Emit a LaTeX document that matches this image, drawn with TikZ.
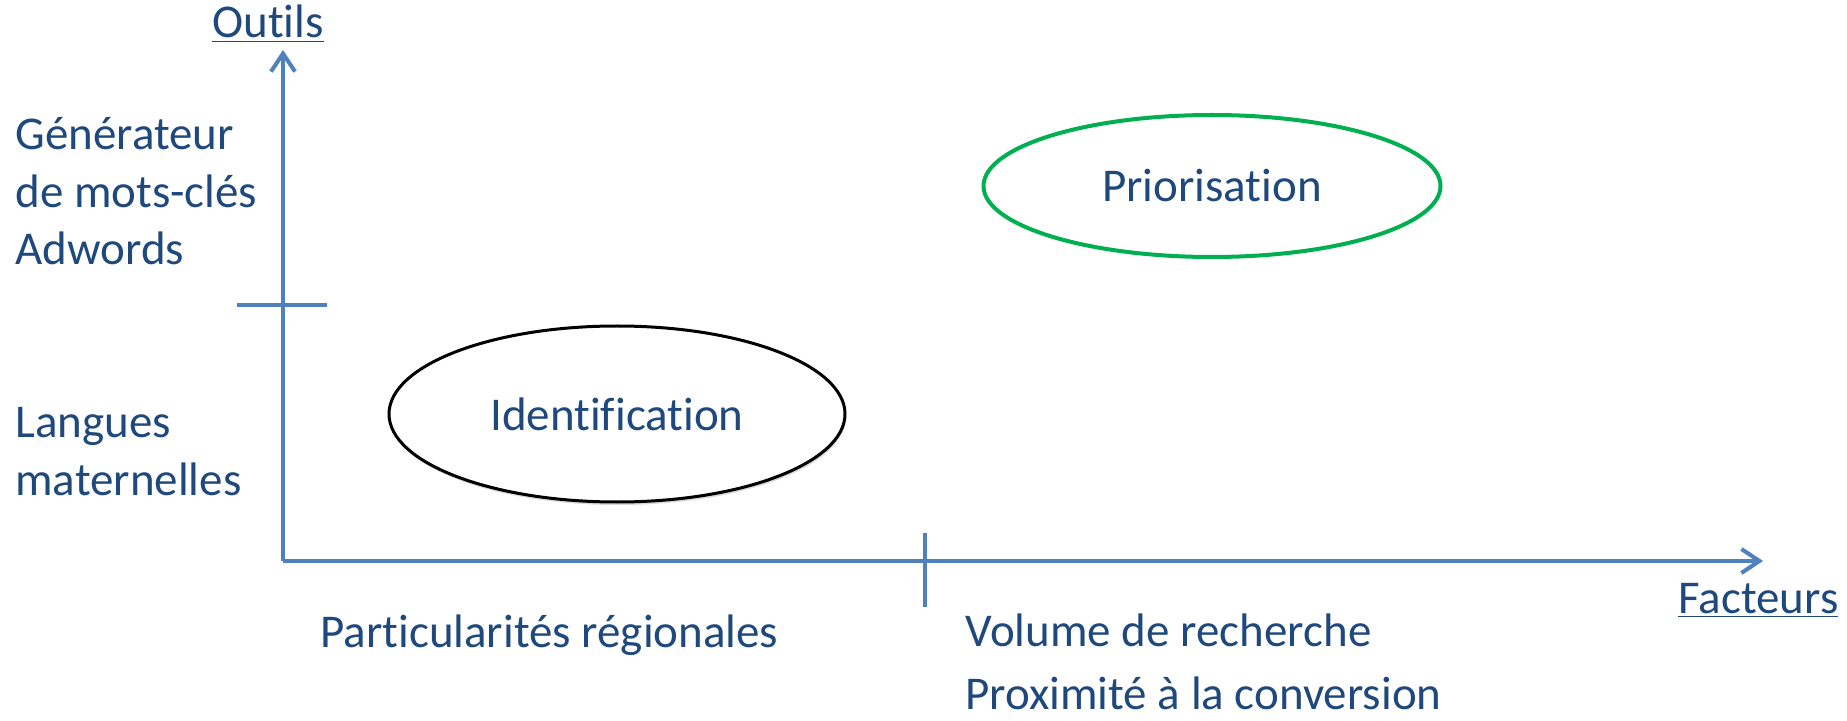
\documentclass[tikz,border=0pt]{standalone}
\usepackage{fontspec}
\setmainfont[Ligatures=NoCommon]{Carlito}
\usepackage{xcolor}
\usetikzlibrary{arrows.meta,shapes.geometric,shadows}
\definecolor{axisblue}{RGB}{79,129,189}
\definecolor{textblue}{RGB}{31,73,125}
\definecolor{prioGreen}{RGB}{0,176,80}

\begin{document}
\begin{tikzpicture}[x=0.5pt,y=-0.5pt,
    lbl/.style={text=textblue,inner sep=0pt,align=left,
      font=\fontsize{23.5}{28.75}\selectfont},
    axe/.style={draw=axisblue,line width=2pt},
    phase/.style={ellipse,fill=white,inner sep=0pt,text=textblue,
      font=\fontsize{23.5}{28.75}\selectfont}]

    \useasboundingbox (0,0) rectangle (1847,721);

    \coordinate (O) at (283,561);
    \coordinate (Ytop) at (283,50);
    \coordinate (Xend) at (1763,561);
    \coordinate (ya) at (237,305);
    \coordinate (yb) at (327,305);
    \coordinate (xa) at (925,533);
    \coordinate (xb) at (925,607);

    \draw[axe,-{Straight Barb[length=9pt,width=12pt]}] (O)--(Ytop);
    \draw[axe,-{Straight Barb[length=9pt,width=12pt]}] (O)--(Xend);
    \draw[axe] (ya)--(yb);
    \draw[axe] (xa)--(xb);

    \node[lbl,anchor=base west] (outils) at (212,38) {\underline{Outils}};
    \node[lbl,anchor=base west] (facteurs) at (1678,613) {\underline{Facteurs}};

    % base = baseline of the last line
    \node[lbl,anchor=base west] (gen) at (15,265) {Générateur\\de mots-clés\\Adwords};
    \node[lbl,anchor=base west] (langues) at (15,495) {Langues\\maternelles};

    \node[lbl,anchor=base west] (region) at (320,647) {Particularités régionales};
    \node[lbl,anchor=base west,font=\fontsize{23.5}{31.5}\selectfont]
      (volume) at (965,709) {Volume de recherche\\Proximité à la conversion};

    \node[phase,draw=black,line width=1.5pt,minimum width=228pt,minimum height=88pt,
      drop shadow={opacity=0.3,shadow xshift=0.5pt,shadow yshift=-1.5pt}]
      (ident) at (617,414) {Identification};
    \node[phase,draw=prioGreen,line width=2pt,minimum width=228.5pt,minimum height=71pt]
      (prio) at (1212,186) {Priorisation};

\end{tikzpicture}
\end{document}
